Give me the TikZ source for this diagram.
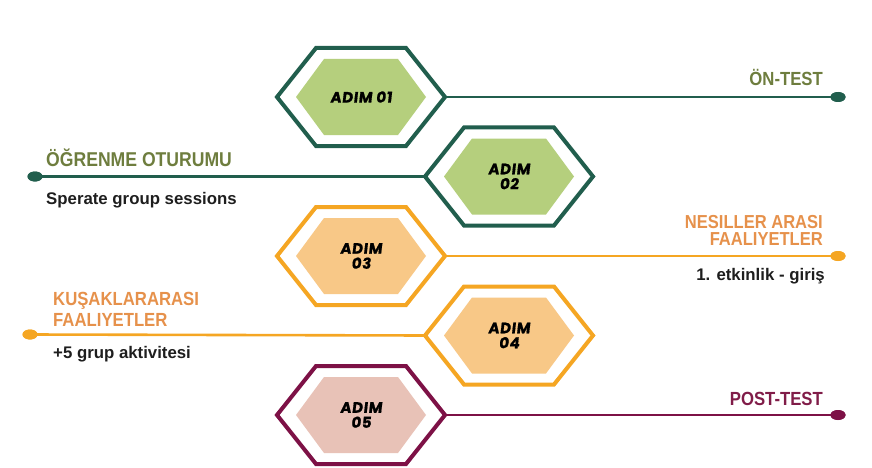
\documentclass[tikz,border=0pt]{standalone}
\usepackage{fontspec}
\setmainfont{Liberation Sans}
\newfontfamily\headfont[FakeStretch=0.88]{Liberation Sans}
\newfontfamily\adimfont[FakeSlant=0.12,FakeBold=0.8,LetterSpace=4]{Poppins}
\usetikzlibrary{shapes.geometric}
\definecolor{gline}{RGB}{33,94,77}
\definecolor{gfill}{RGB}{181,207,125}
\definecolor{ghead}{RGB}{110,125,62}
\definecolor{oline}{RGB}{245,166,35}
\definecolor{ofill}{RGB}{248,200,135}
\definecolor{ohead}{RGB}{230,145,75}
\definecolor{mline}{RGB}{125,17,70}
\definecolor{mfill}{RGB}{232,194,183}
\definecolor{mhead}{RGB}{128,28,72}
\definecolor{bodytxt}{RGB}{30,30,30}
\tikzset{
  hexborder/.style={line width=4pt, line join=miter, fill=white},
  hexinner/.style={draw=none},
  adim/.style={font=\adimfont\bfseries\fontsize{15}{15}\selectfont, text=black, align=center, inner sep=0pt},
  conn/.style={line width=2.6pt},
  enddot/.style={shape=ellipse, minimum width=15pt, minimum height=10pt, inner sep=0pt, fill=#1, draw=none},
  head/.style={font=\headfont\bfseries\fontsize{19}{17}\selectfont, inner sep=0pt, text=#1},
  bodyt/.style={font=\bfseries\fontsize{16.8}{18}\selectfont, inner sep=0pt, text=bodytxt},
}
\newcommand\hexstep[6]{%
  \begin{scope}[shift={(#2,#3)}]
    \draw[hexborder, draw=#4] (-84,0) -- (-45,-49) -- (45,-49) -- (84,0) -- (45,49) -- (-45,49) -- cycle;
    \fill[hexinner, fill=#5] (-65,0) -- (-37,-38) -- (37,-38) -- (65,0) -- (37,38) -- (-37,38) -- cycle;
    \coordinate (#1-l) at (-84,0);
    \coordinate (#1-r) at (84,0);
    \node[adim] (#1-t) at (0,0) {#6};
  \end{scope}}
\begin{document}
\begin{tikzpicture}[x=1pt,y=-1pt]
\useasboundingbox (0,0) rectangle (872,468);
% end dots
\node[enddot=gline] (d1) at (838,97) {};
\node[enddot=gline] (d2) at (35,176.5) {};
\node[enddot=oline] (d3) at (838,256) {};
\node[enddot=oline] (d4) at (30,334.5) {};
\node[enddot=mline] (d5) at (838,415) {};
% hexagons
\hexstep{h1}{361}{97}{gline}{gfill}{ADIM 01}
\hexstep{h2}{509}{176.5}{gline}{gfill}{ADIM\\02}
\hexstep{h3}{361}{256}{oline}{ofill}{ADIM\\03}
\hexstep{h4}{509}{335.5}{oline}{ofill}{ADIM\\04}
\hexstep{h5}{361}{415}{mline}{mfill}{ADIM\\05}
% connectors
\draw[conn, draw=gline] (h1-r) -- (d1.center);
\draw[conn, draw=gline] (h2-l) -- (d2.center);
\draw[conn, draw=oline] (h3-r) -- (d3.center);
\draw[conn, draw=oline] (h4-l) -- (d4.center);
\draw[conn, draw=mline] (h5-r) -- (d5.center);
\node[enddot=gline] (d1b) at (d1) {};
\node[enddot=gline] (d2b) at (d2) {};
\node[enddot=oline] (d3b) at (d3) {};
\node[enddot=oline] (d4b) at (d4) {};
\node[enddot=mline] (d5b) at (d5) {};
% labels
\node[head=ghead, anchor=base east] (t1) at (823,86) {ÖN-TEST};
\node[head=ghead, anchor=base west, font=\headfont\bfseries\fontsize{20}{17}\selectfont] (t2) at (46,166) {ÖĞRENME OTURUMU};
\node[bodyt, anchor=base west] (b2) at (46,204) {Sperate group sessions};
\node[head=ohead, anchor=base east, align=right, font=\headfont\bfseries\fontsize{18.8}{17}\selectfont] (t3) at (823,245) {NESILLER ARASI\\FAALIYETLER};
\node[bodyt, anchor=base east] (b3) at (825,280) {1. etkinlik - giriş};
\node[head=ohead, anchor=base west, align=left, font=\headfont\bfseries\fontsize{19}{21}\selectfont] (t4) at (53,326) {KUŞAKLARARASI\\FAALIYETLER};
\node[bodyt, anchor=base west] (b4) at (53,358) {+5 grup aktivitesi};
\node[head=mhead, anchor=base east] (t5) at (823,405) {POST-TEST};
\end{tikzpicture}
\end{document}
